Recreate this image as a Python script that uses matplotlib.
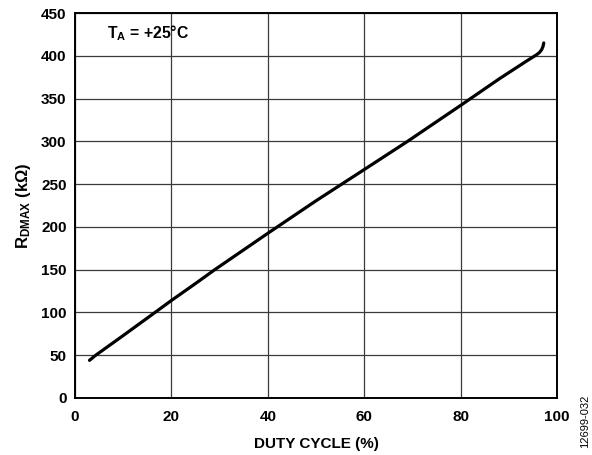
import matplotlib
matplotlib.use("Agg")
import matplotlib.pyplot as plt

plt.rcParams['font.family'] = ['Liberation Sans', 'DejaVu Sans']
plt.rcParams['font.weight'] = 'bold'
plt.rcParams['mathtext.fontset'] = 'custom'
plt.rcParams['mathtext.rm'] = 'Liberation Sans:bold'
plt.rcParams['mathtext.bf'] = 'Liberation Sans:bold'
plt.rcParams['mathtext.it'] = 'Liberation Sans:bold'

# R_DMAX versus duty cycle at TA = +25 C
duty_cycle = [3, 4.3, 10, 16.6, 20, 24.8, 29, 40, 50, 60, 69, 80, 88, 94,
              95.0, 95.7, 96.3, 96.8, 97.1, 97.25]
r_dmax = [44, 50, 73, 100, 114, 133, 150, 192.5, 230.5, 267, 300, 342, 373, 395,
          398.5, 401, 403.5, 407, 411, 415]

x_ticks = [0, 20, 40, 60, 80, 100]
y_ticks = [0, 50, 100, 150, 200, 250, 300, 350, 400, 450]

fig = plt.figure(figsize=(5.92, 4.55), dpi=100)
ax = fig.add_axes([0.1267, 0.1253, 0.8142, 0.8461])

ax.plot(duty_cycle, r_dmax, color='black', linewidth=2.3,
        solid_capstyle='round', solid_joinstyle='round', zorder=3)

ax.set_xlim(0, 100)
ax.set_ylim(0, 450)
ax.set_xticks(x_ticks)
ax.set_yticks(y_ticks)
ax.grid(True, color='#3a3a3a', linewidth=0.9)
ax.set_axisbelow(True)
ax.tick_params(length=0, labelsize=11)
ax.tick_params(axis='x', pad=9)
ax.tick_params(axis='y', pad=6)
for lbl in ax.get_xticklabels() + ax.get_yticklabels():
    lbl.set_fontweight('bold')
for sp in ax.spines.values():
    sp.set_linewidth(1.4)
    sp.set_color('black')

ax.set_xlabel('DUTY CYCLE (%)', fontsize=11, fontweight='bold', labelpad=9)
ax.set_ylabel(r'$\mathbf{R_{DMAX}}$ (kΩ)', fontsize=12, fontweight='bold', labelpad=6)

ax.text(0.066, 421, r'$\mathbf{T_A}$ = +25°C', transform=ax.get_yaxis_transform(),
        fontsize=11.3, fontweight='bold', ha='left', va='baseline')

fig.text(585 / 592, 1 - 421 / 455, '12699-032', rotation=90, fontsize=8,
         fontweight='normal', ha='center', va='center')

fig.savefig('out.png', dpi=100)
